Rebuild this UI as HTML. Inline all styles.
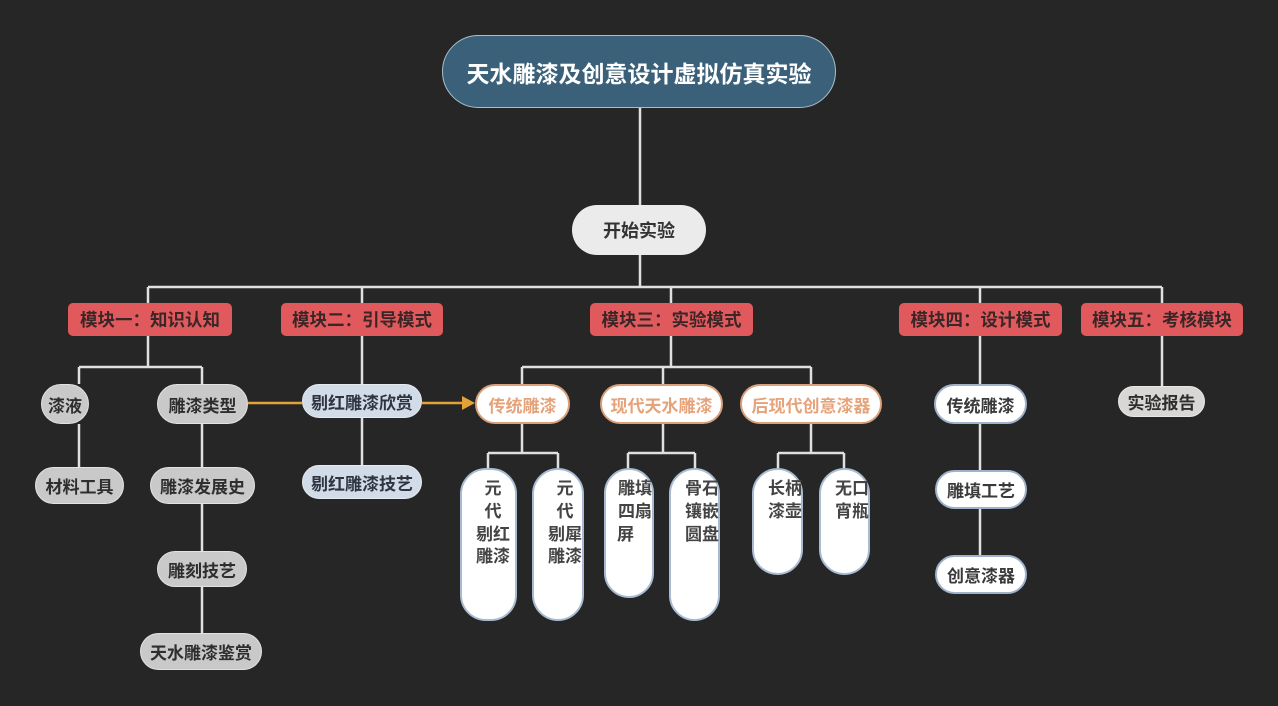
<!DOCTYPE html>
<html><head><meta charset="utf-8">
<style>
html,body{margin:0;padding:0}
body{width:1278px;height:706px;background:#262626;position:relative;overflow:hidden;font-family:"Liberation Sans","Noto Sans CJK SC",sans-serif;font-weight:bold}
.n{position:absolute;box-sizing:border-box;display:flex;align-items:center;justify-content:center;white-space:nowrap}
.title{background:#3a6179;border:1.5px solid #a9c0cc;border-radius:37px;color:#fff;font-size:23px}
.start{background:#ebebeb;border-radius:25px;color:#333;font-size:18px}
.mod{background:#e05a5d;border-radius:5px;color:#3a2626;font-size:17.5px}
.g{background:#c9c9c9;border:1.5px solid #e2e2e2;border-radius:20px;color:#2e2e2e;font-size:17px}
.b{background:#d2dbe8;border:1.5px solid #e6ebf2;border-radius:18px;color:#2e3440;font-size:17px}
.o{background:#fff;border:2.5px solid #d9a07a;border-radius:20px;color:#e4a37a;font-size:17px}
.w{background:#fff;border:2px solid #9fb2cc;border-radius:20px;color:#3a3a3a;font-size:17px}
.p{position:absolute;box-sizing:border-box;background:#fff;border:2px solid #a9bbd2;border-radius:26px;color:#444;font-size:17px;line-height:22.8px;padding-top:8px}
.p span{display:block;width:36px;margin-left:13px;text-align:center}
</style></head><body>
<svg width="1278" height="706" style="position:absolute;left:0;top:0" fill="none">
<g stroke="#e0e0e0" stroke-width="2.5">
<path d="M640 108V205M640 255V287M148 287H1162M148 287V303M362 287V303M671 287V303M980 287V303M1162 287V303"/>
<path d="M148 336V367M79 367H202M79 367V384M202 367V384M79 424V467M202 424V633"/>
<path d="M362 336V384M362 418V465"/>
<path d="M671 336V367M522 367H811M522 367V384M663 367V384M811 367V384"/>
<path d="M522 423V453M488 453H558M488 453V468M558 453V468"/>
<path d="M663 423V453M628 453H695M628 453V468M695 453V468"/>
<path d="M811 423V453M778 453H844M778 453V468M844 453V468"/>
<path d="M980 336V384M980 423V555"/>
<path d="M1162 336V386"/>
</g>
<g stroke="#e3a238" stroke-width="2.5">
<path d="M248 403H302M422 403H462"/>
</g>
<polygon points="462,396 475,403 462,410" fill="#e3a238"/>
</svg>

<div class="n title" style="left:442px;top:35px;width:394px;height:73px">天水雕漆及创意设计虚拟仿真实验</div>
<div class="n start" style="left:572px;top:205px;width:134px;height:50px">开始实验</div>

<div class="n mod" style="left:68px;top:303px;width:164px;height:33px">模块一：知识认知</div>
<div class="n mod" style="left:281px;top:303px;width:162px;height:33px">模块二：引导模式</div>
<div class="n mod" style="left:590px;top:303px;width:163px;height:33px">模块三：实验模式</div>
<div class="n mod" style="left:899px;top:303px;width:163px;height:33px">模块四：设计模式</div>
<div class="n mod" style="left:1081px;top:303px;width:162px;height:33px">模块五：考核模块</div>

<div class="n g" style="left:41px;top:384px;width:48px;height:40px">漆液</div>
<div class="n g" style="left:157px;top:384px;width:91px;height:40px">雕漆类型</div>
<div class="n g" style="left:35px;top:467px;width:89px;height:37px">材料工具</div>
<div class="n g" style="left:150px;top:467px;width:105px;height:37px">雕漆发展史</div>
<div class="n g" style="left:157px;top:551px;width:90px;height:36px">雕刻技艺</div>
<div class="n g" style="left:140px;top:633px;width:122px;height:37px">天水雕漆鉴赏</div>

<div class="n b" style="left:302px;top:384px;width:120px;height:34px">剔红雕漆欣赏</div>
<div class="n b" style="left:302px;top:465px;width:120px;height:34px">剔红雕漆技艺</div>

<div class="n o" style="left:475px;top:384px;width:95px;height:40px">传统雕漆</div>
<div class="n o" style="left:600px;top:384px;width:123px;height:40px">现代天水雕漆</div>
<div class="n o" style="left:740px;top:384px;width:142px;height:40px">后现代创意漆器</div>

<div class="p" style="left:460px;top:468px;width:57px;height:153px"><span>元</span><span>代</span><span>剔红</span><span>雕漆</span></div>
<div class="p" style="left:532px;top:468px;width:52px;height:153px"><span>元</span><span>代</span><span>剔犀</span><span>雕漆</span></div>
<div class="p" style="left:604px;top:468px;width:50px;height:130px"><span style="margin-left:11px">雕填</span><span style="margin-left:11px">四扇</span><span style="margin-left:11px;text-align:left">屏</span></div>
<div class="p" style="left:669px;top:468px;width:51px;height:153px"><span>骨石</span><span>镶嵌</span><span>圆盘</span></div>
<div class="p" style="left:752px;top:468px;width:51px;height:107px"><span>长柄</span><span>漆壶</span></div>
<div class="p" style="left:819px;top:468px;width:51px;height:107px"><span>无口</span><span>宵瓶</span></div>

<div class="n w" style="left:934px;top:384px;width:93px;height:40px">传统雕漆</div>
<div class="n w" style="left:935px;top:470px;width:92px;height:39px">雕填工艺</div>
<div class="n w" style="left:935px;top:555px;width:92px;height:39px">创意漆器</div>

<div class="n g" style="left:1118px;top:386px;width:87px;height:31px;background:#d9d6d6;border-color:#e8e6e6">实验报告</div>
</body></html>
